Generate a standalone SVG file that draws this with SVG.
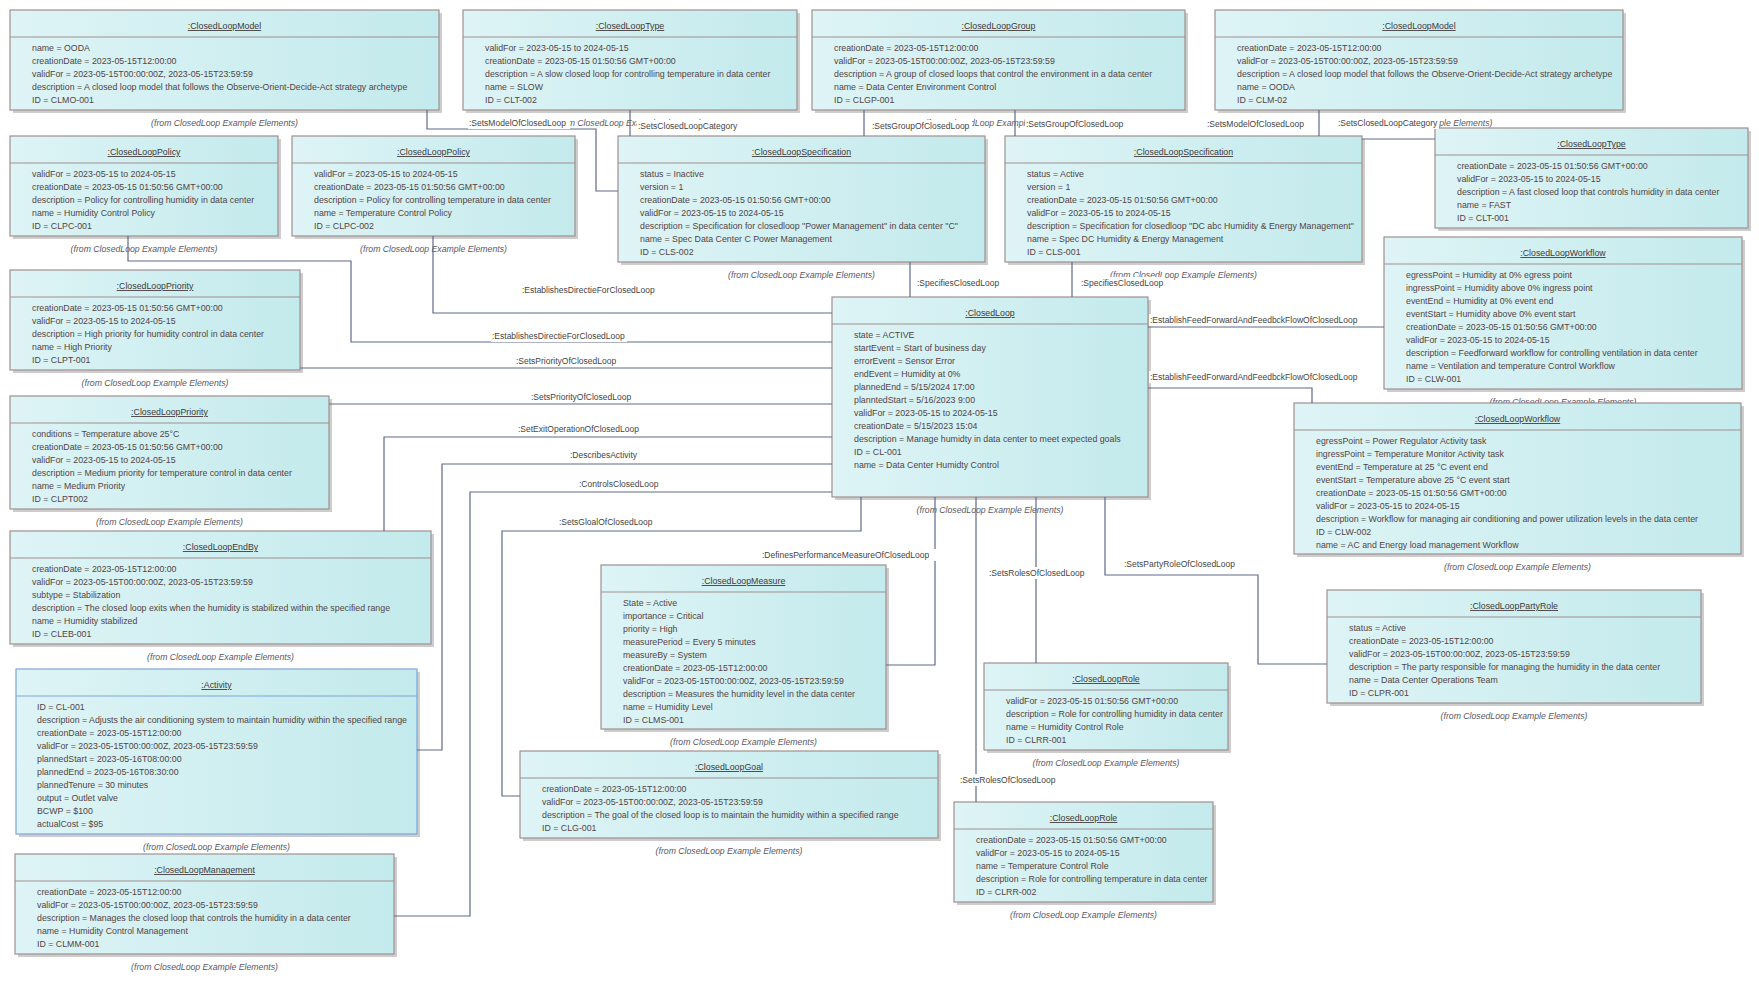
<svg xmlns="http://www.w3.org/2000/svg" width="1759" height="984" viewBox="0 0 1759 984">
<defs>
<linearGradient id="g" x1="0" y1="0" x2="1" y2="0">
<stop offset="0" stop-color="#def4f6"/>
<stop offset="1" stop-color="#c3eaec"/>
</linearGradient>
</defs>
<style>
.sh{fill:#cdcdcd}
.box{fill:url(#g);stroke:#a08f8f;stroke-width:1.2}
.blue{stroke:#7ea6d8}
.hd{stroke:#a08f8f;stroke-width:1}
.hdb{stroke:#7ea6d8;stroke-width:1}
text{font-family:"Liberation Sans",Arial,sans-serif;font-size:8.8px}
.a{fill:#524444}
.ti{text-anchor:middle;text-decoration:underline;fill:#403838}
.fr{font-style:italic;text-anchor:middle;fill:#5a5866;font-size:8.7px}
.c{fill:none;stroke:#5f6a8a;stroke-width:1.2}
.lb{fill:#ffffff}
.lt{fill:#444444;font-size:8.5px}
</style>
<rect width="1759" height="984" fill="#ffffff"/>
<g id="nodes">
<g id="clmo001" transform="translate(10,10)">
<rect class="sh" x="3" y="3" width="429" height="100"/><rect class="box" width="429" height="100"/><line class="hd" x1="0" y1="27" x2="429" y2="27"/>
<text class="ti" x="214.5" y="19">:ClosedLoopModel</text>
<text class="a" y="41"><tspan x="22">name = OODA</tspan><tspan x="22" dy="13">creationDate = 2023-05-15T12:00:00</tspan><tspan x="22" dy="13">validFor = 2023-05-15T00:00:00Z, 2023-05-15T23:59:59</tspan><tspan x="22" dy="13">description = A closed loop model that follows the Observe-Orient-Decide-Act strategy archetype</tspan><tspan x="22" dy="13">ID = CLMO-001</tspan></text>
<text class="fr" x="214.5" y="116">(from ClosedLoop Example Elements)</text>
</g>
<g id="clt002" transform="translate(463,10)">
<rect class="sh" x="3" y="3" width="334" height="100"/><rect class="box" width="334" height="100"/><line class="hd" x1="0" y1="27" x2="334" y2="27"/>
<text class="ti" x="167" y="19">:ClosedLoopType</text>
<text class="a" y="41"><tspan x="22">validFor = 2023-05-15 to 2024-05-15</tspan><tspan x="22" dy="13">creationDate = 2023-05-15 01:50:56 GMT+00:00</tspan><tspan x="22" dy="13">description = A slow closed loop for controlling temperature in data center</tspan><tspan x="22" dy="13">name = SLOW</tspan><tspan x="22" dy="13">ID = CLT-002</tspan></text>
<text class="fr" x="165" y="116">(from ClosedLoop Example Elements)</text>
</g>
<g id="clgp001" transform="translate(812,10)">
<rect class="sh" x="3" y="3" width="373" height="100"/><rect class="box" width="373" height="100"/><line class="hd" x1="0" y1="27" x2="373" y2="27"/>
<text class="ti" x="186.5" y="19">:ClosedLoopGroup</text>
<text class="a" y="41"><tspan x="22">creationDate = 2023-05-15T12:00:00</tspan><tspan x="22" dy="13">validFor = 2023-05-15T00:00:00Z, 2023-05-15T23:59:59</tspan><tspan x="22" dy="13">description = A group of closed loops that control the environment in a data center</tspan><tspan x="22" dy="13">name = Data Center Environment Control</tspan><tspan x="22" dy="13">ID = CLGP-001</tspan></text>
<text class="fr" x="186.5" y="116">(from ClosedLoop Example Elements)</text>
</g>
<g id="clm02" transform="translate(1215,10)">
<rect class="sh" x="3" y="3" width="408" height="100"/><rect class="box" width="408" height="100"/><line class="hd" x1="0" y1="27" x2="408" y2="27"/>
<text class="ti" x="204" y="19">:ClosedLoopModel</text>
<text class="a" y="41"><tspan x="22">creationDate = 2023-05-15T12:00:00</tspan><tspan x="22" dy="13">validFor = 2023-05-15T00:00:00Z, 2023-05-15T23:59:59</tspan><tspan x="22" dy="13">description = A closed loop model that follows the Observe-Orient-Decide-Act strategy archetype</tspan><tspan x="22" dy="13">name = OODA</tspan><tspan x="22" dy="13">ID = CLM-02</tspan></text>
<text class="fr" x="204" y="116">(from ClosedLoop Example Elements)</text>
</g>
<g id="clpc001" transform="translate(10,136)">
<rect class="sh" x="3" y="3" width="268" height="100"/><rect class="box" width="268" height="100"/><line class="hd" x1="0" y1="27" x2="268" y2="27"/>
<text class="ti" x="134" y="19">:ClosedLoopPolicy</text>
<text class="a" y="41"><tspan x="22">validFor = 2023-05-15 to 2024-05-15</tspan><tspan x="22" dy="13">creationDate = 2023-05-15 01:50:56 GMT+00:00</tspan><tspan x="22" dy="13">description = Policy for controlling humidity in data center</tspan><tspan x="22" dy="13">name = Humidity Control Policy</tspan><tspan x="22" dy="13">ID = CLPC-001</tspan></text>
<text class="fr" x="134" y="116">(from ClosedLoop Example Elements)</text>
</g>
<g id="clpc002" transform="translate(292,136)">
<rect class="sh" x="3" y="3" width="283" height="100"/><rect class="box" width="283" height="100"/><line class="hd" x1="0" y1="27" x2="283" y2="27"/>
<text class="ti" x="141.5" y="19">:ClosedLoopPolicy</text>
<text class="a" y="41"><tspan x="22">validFor = 2023-05-15 to 2024-05-15</tspan><tspan x="22" dy="13">creationDate = 2023-05-15 01:50:56 GMT+00:00</tspan><tspan x="22" dy="13">description = Policy for controlling temperature in data center</tspan><tspan x="22" dy="13">name = Temperature Control Policy</tspan><tspan x="22" dy="13">ID = CLPC-002</tspan></text>
<text class="fr" x="141.5" y="116">(from ClosedLoop Example Elements)</text>
</g>
<g id="cls002" transform="translate(618,136)">
<rect class="sh" x="3" y="3" width="367" height="126"/><rect class="box" width="367" height="126"/><line class="hd" x1="0" y1="27" x2="367" y2="27"/>
<text class="ti" x="183.5" y="19">:ClosedLoopSpecification</text>
<text class="a" y="41"><tspan x="22">status = Inactive</tspan><tspan x="22" dy="13">version = 1</tspan><tspan x="22" dy="13">creationDate = 2023-05-15 01:50:56 GMT+00:00</tspan><tspan x="22" dy="13">validFor = 2023-05-15 to 2024-05-15</tspan><tspan x="22" dy="13">description = Specification for closedloop "Power Management" in data center "C"</tspan><tspan x="22" dy="13">name = Spec Data Center C Power Management</tspan><tspan x="22" dy="13">ID = CLS-002</tspan></text>
<text class="fr" x="183.5" y="142">(from ClosedLoop Example Elements)</text>
</g>
<g id="cls001" transform="translate(1005,136)">
<rect class="sh" x="3" y="3" width="357" height="126"/><rect class="box" width="357" height="126"/><line class="hd" x1="0" y1="27" x2="357" y2="27"/>
<text class="ti" x="178.5" y="19">:ClosedLoopSpecification</text>
<text class="a" y="41"><tspan x="22">status = Active</tspan><tspan x="22" dy="13">version = 1</tspan><tspan x="22" dy="13">creationDate = 2023-05-15 01:50:56 GMT+00:00</tspan><tspan x="22" dy="13">validFor = 2023-05-15 to 2024-05-15</tspan><tspan x="22" dy="13">description = Specification for closedloop "DC abc Humidity &amp; Energy Management"</tspan><tspan x="22" dy="13">name = Spec DC Humidity &amp; Energy Management</tspan><tspan x="22" dy="13">ID = CLS-001</tspan></text>
<text class="fr" x="178.5" y="142">(from ClosedLoop Example Elements)</text>
</g>
<g id="clt001" transform="translate(1435,128)">
<rect class="sh" x="3" y="3" width="313" height="100"/><rect class="box" width="313" height="100"/><line class="hd" x1="0" y1="27" x2="313" y2="27"/>
<text class="ti" x="156.5" y="19">:ClosedLoopType</text>
<text class="a" y="41"><tspan x="22">creationDate = 2023-05-15 01:50:56 GMT+00:00</tspan><tspan x="22" dy="13">validFor = 2023-05-15 to 2024-05-15</tspan><tspan x="22" dy="13">description = A fast closed loop that controls humidity in data center</tspan><tspan x="22" dy="13">name = FAST</tspan><tspan x="22" dy="13">ID = CLT-001</tspan></text>
</g>
<g id="clpt001" transform="translate(10,270)">
<rect class="sh" x="3" y="3" width="290" height="100"/><rect class="box" width="290" height="100"/><line class="hd" x1="0" y1="27" x2="290" y2="27"/>
<text class="ti" x="145" y="19">:ClosedLoopPriority</text>
<text class="a" y="41"><tspan x="22">creationDate = 2023-05-15 01:50:56 GMT+00:00</tspan><tspan x="22" dy="13">validFor = 2023-05-15 to 2024-05-15</tspan><tspan x="22" dy="13">description = High priority for humidity control in data center</tspan><tspan x="22" dy="13">name = High Priority</tspan><tspan x="22" dy="13">ID = CLPT-001</tspan></text>
<text class="fr" x="145" y="116">(from ClosedLoop Example Elements)</text>
</g>
<g id="clpt002" transform="translate(10,396)">
<rect class="sh" x="3" y="3" width="319" height="113"/><rect class="box" width="319" height="113"/><line class="hd" x1="0" y1="27" x2="319" y2="27"/>
<text class="ti" x="159.5" y="19">:ClosedLoopPriority</text>
<text class="a" y="41"><tspan x="22">conditions = Temperature above 25°C</tspan><tspan x="22" dy="13">creationDate = 2023-05-15 01:50:56 GMT+00:00</tspan><tspan x="22" dy="13">validFor = 2023-05-15 to 2024-05-15</tspan><tspan x="22" dy="13">description = Medium priority for temperature control in data center</tspan><tspan x="22" dy="13">name = Medium Priority</tspan><tspan x="22" dy="13">ID = CLPT002</tspan></text>
<text class="fr" x="159.5" y="129">(from ClosedLoop Example Elements)</text>
</g>
<g id="cleb001" transform="translate(10,531)">
<rect class="sh" x="3" y="3" width="421" height="113"/><rect class="box" width="421" height="113"/><line class="hd" x1="0" y1="27" x2="421" y2="27"/>
<text class="ti" x="210.5" y="19">:ClosedLoopEndBy</text>
<text class="a" y="41"><tspan x="22">creationDate = 2023-05-15T12:00:00</tspan><tspan x="22" dy="13">validFor = 2023-05-15T00:00:00Z, 2023-05-15T23:59:59</tspan><tspan x="22" dy="13">subtype = Stabilization</tspan><tspan x="22" dy="13">description = The closed loop exits when the humidity is stabilized within the specified range</tspan><tspan x="22" dy="13">name = Humidity stabilized</tspan><tspan x="22" dy="13">ID = CLEB-001</tspan></text>
<text class="fr" x="210.5" y="129">(from ClosedLoop Example Elements)</text>
</g>
<g id="activity" transform="translate(16,669)">
<rect class="sh" x="3" y="3" width="401" height="165"/><rect class="box blue" width="401" height="165"/><line class="hdb" x1="0" y1="27" x2="401" y2="27"/>
<text class="ti" x="200.5" y="19">:Activity</text>
<text class="a" y="41"><tspan x="21">ID = CL-001</tspan><tspan x="21" dy="13">description = Adjusts the air conditioning system to maintain humidity within the specified range</tspan><tspan x="21" dy="13">creationDate = 2023-05-15T12:00:00</tspan><tspan x="21" dy="13">validFor = 2023-05-15T00:00:00Z, 2023-05-15T23:59:59</tspan><tspan x="21" dy="13">plannedStart = 2023-05-16T08:00:00</tspan><tspan x="21" dy="13">plannedEnd = 2023-05-16T08:30:00</tspan><tspan x="21" dy="13">plannedTenure = 30 minutes</tspan><tspan x="21" dy="13">output = Outlet valve</tspan><tspan x="21" dy="13">BCWP = $100</tspan><tspan x="21" dy="13">actualCost = $95</tspan></text>
<text class="fr" x="200.5" y="181">(from ClosedLoop Example Elements)</text>
</g>
<g id="clmm001" transform="translate(15,854)">
<rect class="sh" x="3" y="3" width="379" height="100"/><rect class="box" width="379" height="100"/><line class="hd" x1="0" y1="27" x2="379" y2="27"/>
<text class="ti" x="189.5" y="19">:ClosedLoopManagement</text>
<text class="a" y="41"><tspan x="22">creationDate = 2023-05-15T12:00:00</tspan><tspan x="22" dy="13">validFor = 2023-05-15T00:00:00Z, 2023-05-15T23:59:59</tspan><tspan x="22" dy="13">description = Manages the closed loop that controls the humidity in a data center</tspan><tspan x="22" dy="13">name = Humidity Control Management</tspan><tspan x="22" dy="13">ID = CLMM-001</tspan></text>
<text class="fr" x="189.5" y="116">(from ClosedLoop Example Elements)</text>
</g>
<g id="closedloop" transform="translate(832,297)">
<rect class="sh" x="3" y="3" width="316" height="200"/><rect class="box" width="316" height="200"/><line class="hd" x1="0" y1="27" x2="316" y2="27"/>
<text class="ti" x="158" y="19">:ClosedLoop</text>
<text class="a" y="41"><tspan x="22">state = ACTIVE</tspan><tspan x="22" dy="13">startEvent = Start of business day</tspan><tspan x="22" dy="13">errorEvent = Sensor Error</tspan><tspan x="22" dy="13">endEvent = Humidity at 0%</tspan><tspan x="22" dy="13">plannedEnd = 5/15/2024 17:00</tspan><tspan x="22" dy="13">planntedStart = 5/16/2023 9:00</tspan><tspan x="22" dy="13">validFor = 2023-05-15 to 2024-05-15</tspan><tspan x="22" dy="13">creationDate = 5/15/2023 15:04</tspan><tspan x="22" dy="13">description = Manage humidty in data center to meet expected goals</tspan><tspan x="22" dy="13">ID = CL-001</tspan><tspan x="22" dy="13">name = Data Center Humidty Control</tspan></text>
<text class="fr" x="158" y="216">(from ClosedLoop Example Elements)</text>
</g>
<g id="clms001" transform="translate(601,565)">
<rect class="sh" x="3" y="3" width="285" height="164"/><rect class="box" width="285" height="164"/><line class="hd" x1="0" y1="27" x2="285" y2="27"/>
<text class="ti" x="142.5" y="19">:ClosedLoopMeasure</text>
<text class="a" y="41"><tspan x="22">State = Active</tspan><tspan x="22" dy="13">importance = Critical</tspan><tspan x="22" dy="13">priority = High</tspan><tspan x="22" dy="13">measurePeriod = Every 5 minutes</tspan><tspan x="22" dy="13">measureBy = System</tspan><tspan x="22" dy="13">creationDate = 2023-05-15T12:00:00</tspan><tspan x="22" dy="13">validFor = 2023-05-15T00:00:00Z, 2023-05-15T23:59:59</tspan><tspan x="22" dy="13">description = Measures the humidity level in the data center</tspan><tspan x="22" dy="13">name = Humidity Level</tspan><tspan x="22" dy="13">ID = CLMS-001</tspan></text>
<text class="fr" x="142.5" y="180">(from ClosedLoop Example Elements)</text>
</g>
<g id="clg001" transform="translate(520,751)">
<rect class="sh" x="3" y="3" width="418" height="87"/><rect class="box" width="418" height="87"/><line class="hd" x1="0" y1="27" x2="418" y2="27"/>
<text class="ti" x="209" y="19">:ClosedLoopGoal</text>
<text class="a" y="41"><tspan x="22">creationDate = 2023-05-15T12:00:00</tspan><tspan x="22" dy="13">validFor = 2023-05-15T00:00:00Z, 2023-05-15T23:59:59</tspan><tspan x="22" dy="13">description = The goal of the closed loop is to maintain the humidity within a specified range</tspan><tspan x="22" dy="13">ID = CLG-001</tspan></text>
<text class="fr" x="209" y="103">(from ClosedLoop Example Elements)</text>
</g>
<g id="clrr001" transform="translate(984,663)">
<rect class="sh" x="3" y="3" width="244" height="87"/><rect class="box" width="244" height="87"/><line class="hd" x1="0" y1="27" x2="244" y2="27"/>
<text class="ti" x="122" y="19">:ClosedLoopRole</text>
<text class="a" y="41"><tspan x="22">validFor = 2023-05-15 01:50:56 GMT+00:00</tspan><tspan x="22" dy="13">description = Role for controlling humidity in data center</tspan><tspan x="22" dy="13">name = Humidity Control Role</tspan><tspan x="22" dy="13">ID = CLRR-001</tspan></text>
<text class="fr" x="122" y="103">(from ClosedLoop Example Elements)</text>
</g>
<g id="clrr002" transform="translate(954,802)">
<rect class="sh" x="3" y="3" width="259" height="100"/><rect class="box" width="259" height="100"/><line class="hd" x1="0" y1="27" x2="259" y2="27"/>
<text class="ti" x="129.5" y="19">:ClosedLoopRole</text>
<text class="a" y="41"><tspan x="22">creationDate = 2023-05-15 01:50:56 GMT+00:00</tspan><tspan x="22" dy="13">validFor = 2023-05-15 to 2024-05-15</tspan><tspan x="22" dy="13">name = Temperature Control Role</tspan><tspan x="22" dy="13">description = Role for controlling temperature in data center</tspan><tspan x="22" dy="13">ID = CLRR-002</tspan></text>
<text class="fr" x="129.5" y="116">(from ClosedLoop Example Elements)</text>
</g>
<g id="clpr001" transform="translate(1327,590)">
<rect class="sh" x="3" y="3" width="374" height="113"/><rect class="box" width="374" height="113"/><line class="hd" x1="0" y1="27" x2="374" y2="27"/>
<text class="ti" x="187" y="19">:ClosedLoopPartyRole</text>
<text class="a" y="41"><tspan x="22">status = Active</tspan><tspan x="22" dy="13">creationDate = 2023-05-15T12:00:00</tspan><tspan x="22" dy="13">validFor = 2023-05-15T00:00:00Z, 2023-05-15T23:59:59</tspan><tspan x="22" dy="13">description = The party responsible for managing the humidity in the data center</tspan><tspan x="22" dy="13">name = Data Center Operations Team</tspan><tspan x="22" dy="13">ID = CLPR-001</tspan></text>
<text class="fr" x="187" y="129">(from ClosedLoop Example Elements)</text>
</g>
<g id="clw001" transform="translate(1384,237)">
<rect class="sh" x="3" y="3" width="358" height="152"/><rect class="box" width="358" height="152"/><line class="hd" x1="0" y1="27" x2="358" y2="27"/>
<text class="ti" x="179" y="19">:ClosedLoopWorkflow</text>
<text class="a" y="41"><tspan x="22">egressPoint = Humidity at 0% egress point</tspan><tspan x="22" dy="13">ingressPoint = Humidity above 0% ingress point</tspan><tspan x="22" dy="13">eventEnd = Humidity at 0% event end</tspan><tspan x="22" dy="13">eventStart = Humidity above 0% event start</tspan><tspan x="22" dy="13">creationDate = 2023-05-15 01:50:56 GMT+00:00</tspan><tspan x="22" dy="13">validFor = 2023-05-15 to 2024-05-15</tspan><tspan x="22" dy="13">description = Feedforward workflow for controlling ventilation in data center</tspan><tspan x="22" dy="13">name = Ventilation and temperature Control Workflow</tspan><tspan x="22" dy="13">ID = CLW-001</tspan></text>
<text class="fr" x="179" y="168">(from ClosedLoop Example Elements)</text>
</g>
<g id="clw002" transform="translate(1294,403)">
<rect class="sh" x="3" y="3" width="447" height="151"/><rect class="box" width="447" height="151"/><line class="hd" x1="0" y1="27" x2="447" y2="27"/>
<text class="ti" x="223.5" y="19">:ClosedLoopWorkflow</text>
<text class="a" y="41"><tspan x="22">egressPoint = Power Regulator Activity task</tspan><tspan x="22" dy="13">ingressPoint = Temperature Monitor Activity task</tspan><tspan x="22" dy="13">eventEnd = Temperature at 25 °C event end</tspan><tspan x="22" dy="13">eventStart = Temperature above 25 °C event start</tspan><tspan x="22" dy="13">creationDate = 2023-05-15 01:50:56 GMT+00:00</tspan><tspan x="22" dy="13">validFor = 2023-05-15 to 2024-05-15</tspan><tspan x="22" dy="13">description = Workflow for managing air conditioning and power utilization levels in the data center</tspan><tspan x="22" dy="13">ID = CLW-002</tspan><tspan x="22" dy="13">name = AC and Energy load management Workflow</tspan></text>
<text class="fr" x="223.5" y="167">(from ClosedLoop Example Elements)</text>
</g>
</g>
<g id="connectors">
<path class="c" d="M427,110 V129 H596 V191 H618"/>
<path class="c" d="M630,110 V136"/>
<path class="c" d="M864,110 V136"/>
<path class="c" d="M1015,110 V136"/>
<path class="c" d="M1319,110 V136"/>
<path class="c" d="M1362,139 H1435"/>
<path class="c" d="M910,262 V297"/>
<path class="c" d="M1072,262 V297"/>
<path class="c" d="M433,236 V313 H832"/>
<path class="c" d="M128,236 V261 H351 V342 H832"/>
<path class="c" d="M300,368 H832"/>
<path class="c" d="M329,404 H832"/>
<path class="c" d="M384,531 V437 H832"/>
<path class="c" d="M417,750 H442 V464 H832"/>
<path class="c" d="M394,916 H470 V492 H832"/>
<path class="c" d="M861,497 V531 H502 V796 H520"/>
<path class="c" d="M886,665 H935 V497"/>
<path class="c" d="M1036,497 V663"/>
<path class="c" d="M976,497 V802"/>
<path class="c" d="M1105,497 V575 H1258 V664 H1327"/>
<path class="c" d="M1148,327 H1384"/>
<path class="c" d="M1148,388 H1312 V403"/>
</g>
<g id="connector-labels">
<rect class="lb" x="468" y="117" width="102" height="12"/><text class="lt" x="469" y="126">:SetsModelOfClosedLoop</text>
<rect class="lb" x="637" y="120" width="102" height="12"/><text class="lt" x="638" y="129">:SetsClosedLoopCategory</text>
<rect class="lb" x="871" y="120" width="101" height="12"/><text class="lt" x="872" y="129">:SetsGroupOfClosedLoop</text>
<rect class="lb" x="1025" y="118" width="100" height="12"/><text class="lt" x="1026" y="127">:SetsGroupOfClosedLoop</text>
<rect class="lb" x="1206" y="118" width="102" height="12"/><text class="lt" x="1207" y="127">:SetsModelOfClosedLoop</text>
<rect class="lb" x="1337" y="117" width="102" height="12"/><text class="lt" x="1338" y="126">:SetsClosedLoopCategory</text>
<rect class="lb" x="916" y="277" width="84" height="12"/><text class="lt" x="917" y="286">:SpecifiesClosedLoop</text>
<rect class="lb" x="1080" y="277" width="85" height="12"/><text class="lt" x="1081" y="286">:SpecifiesClosedLoop</text>
<rect class="lb" x="521" y="284" width="136" height="12"/><text class="lt" x="522" y="293">:EstablishesDirectieForClosedLoop</text>
<rect class="lb" x="491" y="330" width="136" height="12"/><text class="lt" x="492" y="339">:EstablishesDirectieForClosedLoop</text>
<rect class="lb" x="515" y="355" width="104" height="12"/><text class="lt" x="516" y="364">:SetsPriorityOfClosedLoop</text>
<rect class="lb" x="530" y="391" width="104" height="12"/><text class="lt" x="531" y="400">:SetsPriorityOfClosedLoop</text>
<rect class="lb" x="517" y="423" width="126" height="12"/><text class="lt" x="518" y="432">:SetExitOperationOfClosedLoop</text>
<rect class="lb" x="569" y="449" width="73" height="12"/><text class="lt" x="570" y="458">:DescribesActivity</text>
<rect class="lb" x="578" y="478" width="82" height="12"/><text class="lt" x="579" y="487">:ControlsClosedLoop</text>
<rect class="lb" x="558" y="516" width="96" height="12"/><text class="lt" x="559" y="525">:SetsGloalOfClosedLoop</text>
<rect class="lb" x="761" y="549" width="177" height="12"/><text class="lt" x="762" y="558">:DefinesPerformanceMeasureOfClosedLoop</text>
<rect class="lb" x="988" y="567" width="97" height="12"/><text class="lt" x="989" y="576">:SetsRolesOfClosedLoop</text>
<rect class="lb" x="959" y="774" width="98" height="12"/><text class="lt" x="960" y="783">:SetsRolesOfClosedLoop</text>
<rect class="lb" x="1123" y="558" width="114" height="12"/><text class="lt" x="1124" y="567">:SetsPartyRoleOfClosedLoop</text>
<rect class="lb" x="1149" y="314" width="216" height="12"/><text class="lt" x="1150" y="323">:EstablishFeedForwardAndFeedbckFlowOfClosedLoop</text>
<rect class="lb" x="1149" y="371" width="216" height="12"/><text class="lt" x="1150" y="380">:EstablishFeedForwardAndFeedbckFlowOfClosedLoop</text>
</g>
</svg>
